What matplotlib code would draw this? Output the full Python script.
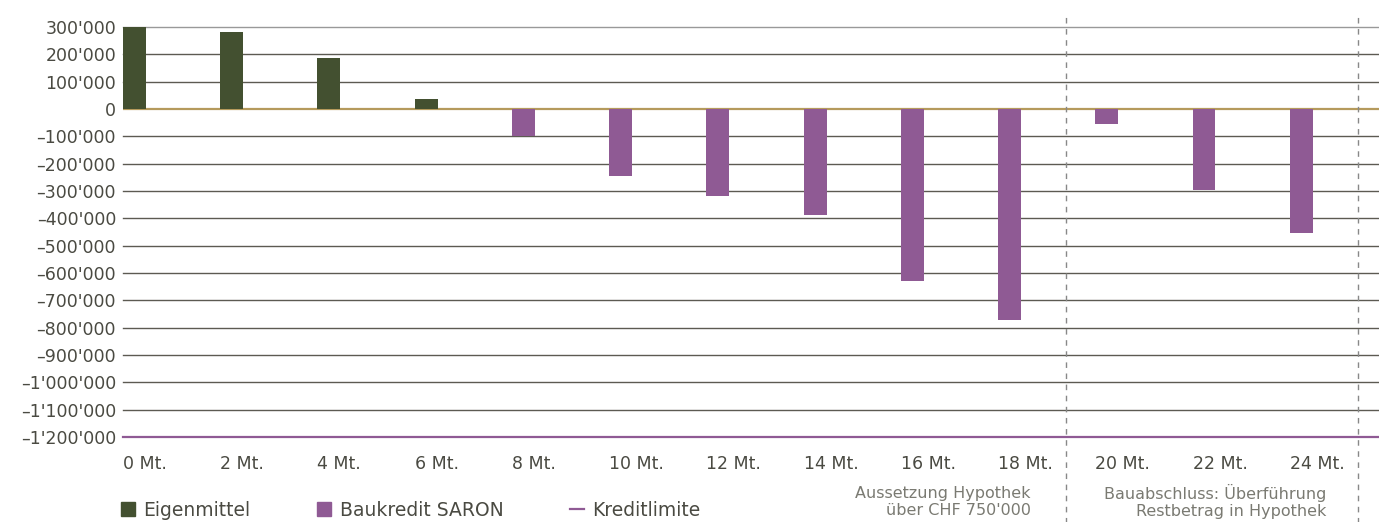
import matplotlib.pyplot as plt
from matplotlib.patches import Patch
from matplotlib.lines import Line2D
from matplotlib.ticker import FuncFormatter

plt.rcParams['font.family'] = ['DejaVu Sans']

# data
months = ["0 Mt.", "2 Mt.", "4 Mt.", "6 Mt.", "8 Mt.", "10 Mt.", "12 Mt.",
          "14 Mt.", "16 Mt.", "18 Mt.", "20 Mt.", "22 Mt.", "24 Mt."]
eigenmittel = [300000, 280000, 185000, 38000, 0, 0, 0, 0, 0, 0, 0, 0, 0]
baukredit = [0, 0, 0, 0, -100000, -245000, -318000, -388000, -629000,
             -772000, -55000, -296000, -452000]
kreditlimite = -1200000
phase_notes = ["Aussetzung Hypothek\nüber CHF 750'000",
               "Bauabschluss: Überführung\nRestbetrag in Hypothek"]

green = "#435030"
purple = "#8f5a94"
gold = "#b59a5c"
gridc = "#5c5a52"
textc = "#4a4a42"

fig = plt.figure(figsize=(13.79, 5.22), dpi=100)
ax = fig.add_axes([123 / 1379, 1 - 437 / 522, 1 - 123 / 1379, 410 / 522])

x = list(range(len(months)))
w = 0.236
ax.bar(x, eigenmittel, width=w, color=green, zorder=3)
ax.bar(x, baukredit, width=w, color=purple, zorder=3)

ax.set_xlim(-w / 2, 12.8)
ax.set_ylim(-1200000, 300000)

yt = list(range(-1200000, 300001, 100000))
ax.set_yticks(yt)
ax.yaxis.set_major_formatter(FuncFormatter(
    lambda v, p: "{:,}".format(int(v)).replace(",", "'").replace("-", "–")))
ax.tick_params(axis='y', length=0, pad=5, labelsize=12.5, labelcolor=textc)
ax.set_xticks([])

for v in yt:
    if v in (0, kreditlimite):
        continue
    ax.axhline(v, color="#999999" if v == 300000 else gridc, lw=1, zorder=1,
               clip_on=False)
ax.axhline(0, color=gold, lw=1.6, zorder=2)
ax.axhline(kreditlimite, color=purple, lw=1.6, zorder=2, clip_on=False)

for s in ax.spines.values():
    s.set_visible(False)

# month labels, left aligned at bar edge
for xi, lab in zip(x, months):
    ax.text(xi - w / 2, -0.065, lab, transform=ax.get_xaxis_transform(),
            ha='left', va='center', fontsize=12.5, color=textc)

# phase separators
trans = ax.get_xaxis_transform()
for xs in [9.58, 12.58]:
    ax.plot([xs, xs], [-0.21, 1.037], transform=trans, color="#888888",
            lw=1, ls=(0, (4, 4)), clip_on=False, zorder=4)

for xr, note in zip([9.22, 12.26], phase_notes):
    ax.text(xr, -0.158, note, transform=trans, ha='right', va='center',
            fontsize=11.5, color="#7a7a72", linespacing=1.2, multialignment='right')

handles = [Patch(color=green), Patch(color=purple),
           Line2D([0], [0], color=purple, lw=1.6)]
leg = fig.legend(handles, ["Eigenmittel", "Baukredit SARON", "Kreditlimite"],
                 loc='center left', bbox_to_anchor=(121 / 1379, 12 / 522), ncol=3,
                 frameon=False, fontsize=13.5, handlelength=0.75, handleheight=0.75,
                 handletextpad=0.45, columnspacing=3.55, borderaxespad=0,
                 borderpad=0)
for t in leg.get_texts():
    t.set_color(textc)

fig.savefig("out.png", dpi=100)
